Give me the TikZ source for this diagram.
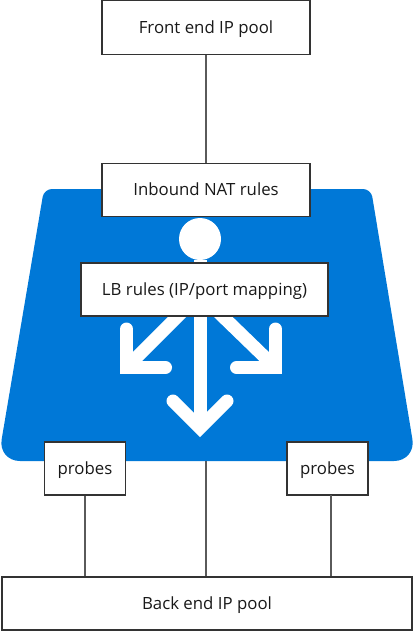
\documentclass[tikz,border=0pt]{standalone}
\usepackage{fontspec}
\setmainfont{Open Sans}
\definecolor{azure}{HTML}{0078D7}
\definecolor{boxline}{HTML}{333333}
\definecolor{conn}{HTML}{5A5A5A}
\tikzset{
  x=1pt,y=-1pt,
  pool/.style={draw=boxline,fill=white,line width=1.2pt,inner sep=0pt,text height=15.5pt,text depth=4pt,font=\fontsize{16.8}{20}\selectfont,text=black!90},
  link/.style={draw=conn,line width=1.2pt},
  glyph/.style={draw=white,line width=13pt,line join=miter,miter limit=10,line cap=round},
  shaft/.style={draw=white,line width=13pt,line cap=butt}
}
\begin{document}
\begin{tikzpicture}
\useasboundingbox (0,0) rectangle (414,632);
\fill[azure,rounded corners=8pt] (200,189) -- (371,189) [rounded corners=22pt] -- (416,461) -- (-2,461) [rounded corners=8pt] -- (44,189) -- cycle;
\coordinate (bluebase) at (206,461);
% glyphs
\node[circle,fill=white,minimum size=42pt,inner sep=0pt] (hub) at (200,239) {};
\coordinate (sL) at (188,306);
\coordinate (cL) at (126.5,367.5);
\coordinate (sR) at (212,306);
\coordinate (cR) at (275.5,367.5);
\coordinate (sC) at (200,306);
\coordinate (tC) at (200,428);
\draw[shaft] (sL) -- (cL);
\draw[shaft] (sR) -- (cR);
\draw[shaft] (sC) -- (tC);
\draw[glyph] (126.5,329) -- (cL) -- (165.5,367.5);
\draw[glyph] (275.5,329) -- (cR) -- (236.5,367.5);
\draw[glyph] (173,401) -- (tC) -- (227,401);
% boxes
\node[pool,minimum width=247pt,minimum height=53pt] (lb) at (204.5,289.5) {LB rules (IP/port mapping)};
\draw[shaft] (hub.south) -- (lb.north -| hub.south);
\node[pool,minimum width=208pt,minimum height=54pt] (front) at (206,27.5) {Front end IP pool};
\node[pool,minimum width=208pt,minimum height=53pt] (inbound) at (206,190) {Inbound NAT rules};
\node[pool,minimum width=81pt,minimum height=53pt] (p1) at (85,468.5) {probes};
\node[pool,minimum width=81pt,minimum height=53pt] (p2) at (327.5,468.5) {probes};
\node[pool,minimum width=410pt,minimum height=53pt] (back) at (207,603.5) {Back end IP pool};
% connectors
\coordinate (p2pin) at (331,495);
\draw[link] (front.south) -- (inbound.north);
\draw[link] (p1.south) -- (p1.south |- back.north);
\draw[link] (p2pin) -- (p2pin |- back.north);
\draw[link] (bluebase) -- (bluebase |- back.north);
\end{tikzpicture}
\end{document}
